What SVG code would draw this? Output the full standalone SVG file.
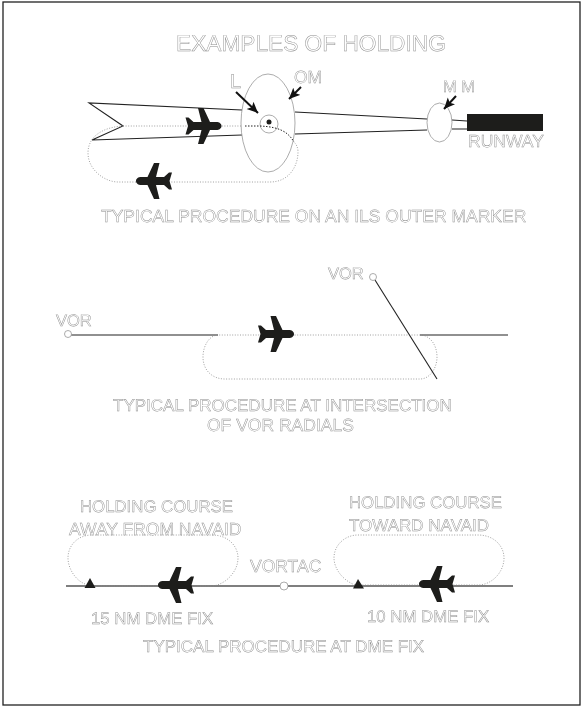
<svg xmlns="http://www.w3.org/2000/svg" width="582" height="711" viewBox="0 0 582 711">
<style>
text{font-family:"Liberation Sans",Arial,sans-serif;fill:#fff;stroke:#8c8c8c;stroke-width:.45;font-size:17.5px;filter:grayscale(1);text-rendering:geometricPrecision}
.s168{font-size:16.8px}
.s17{font-size:17px}
.s165{font-size:16.5px}
.ln{fill:none;stroke:#222;stroke-width:1.1}
.gr{fill:none;stroke:#555;stroke-width:1.5}
.gd{fill:none;stroke:#222;stroke-width:1.1}
.el{fill:#fff;stroke:#888;stroke-width:.7}
.dot{fill:none;stroke:#888;stroke-width:.8;stroke-dasharray:1 1.6}
.ddk{fill:none;stroke:#222;stroke-width:1;stroke-dasharray:1.5 1.5}
.ar{fill:none;stroke:#111;stroke-width:2;marker-end:url(#ah)}
.k{fill:#1d1d1b}
</style>
<defs>
<marker id="ah" markerUnits="userSpaceOnUse" markerWidth="12" markerHeight="12" refX="11" refY="5" orient="auto"><path d="M0 0L11 5L0 10L2.500 5Z" fill="#111"/></marker>
<path id="plane" class="k" d="M18 0C18 -2.500 15.500 -4 13 -4L6.500 -4L0 -18L-5.500 -18L-2 -4L-10 -4L-15 -8.500L-18 -8.500L-15.500 0L-18 8.500L-15 8.500L-10 4L-2 4L-5.500 18L0 18L6.500 4L13 4C15.500 4 18 2.500 18 0Z"/>
</defs>
<rect id="frame" x="3" y="2" width="577" height="703" fill="#fff" stroke="#222" stroke-width="1.300"/>
<g id="connectors">
<path class="ln" d="M242 110L89 103L123 126L92 140L242 135"/>
<path class="ln" d="M295 112L427 119M295 134L427 130M452 120L467 121M452 129L467 129"/>
<path class="dot" d="M123 126C105 127 88 135 88 153C88 170 105 182 118 182L270 182C290 182 298 165 298 152C298 147 296 144 294 142"/>
<path class="dot" d="M123 126L245 126"/>
<path class="gd" d="M70 335L218 335M420 335L508 335"/>
<path class="dot" d="M218 335C210 335 203 345 203 357C203 370 212 379 225 379L420 379C430 379 437 368 437 357C437 345 430 335 420 335Z"/>
<path class="ln" d="M375 280L437 379"/>
<path class="gr" d="M66 586L513 586"/>
<path class="dot" d="M85 584C75 580 68 568 68 558C68 545 78 535 92 535L212 535C228 535 238 546 238 558C238 572 225 585 212 586L90 586"/>
<path class="dot" d="M355 585C342 580 334 568 334 558C334 545 345 535 358 535L478 535C494 535 504 546 504 558C504 572 492 585 478 585L358 585"/>
</g>
<g id="marker-om">
<ellipse class="el" cx="268" cy="123" rx="27" ry="49"/>
<circle class="el" cx="269" cy="124" r="9"/>
<circle class="k" cx="269" cy="122" r="2.500"/>
<path class="ddk" d="M245 126L260 126C280 127 288 132 294 142"/>
<path class="ar" d="M236 92L258 113"/>
<path class="ar" d="M301 87L289 99"/>
<text x="230" y="88" style="font-size:20px">L</text>
<text x="294" y="83">OM</text>
</g>
<g id="marker-mm">
<ellipse class="el" cx="439.500" cy="122.500" rx="12.500" ry="19.500"/>
<path class="ar" d="M456 96L444 109"/>
<text class="s165" x="443" y="92">M M</text>
</g>
<g id="runway">
<rect x="467" y="114" width="76" height="17" class="k"/>
<text x="468" y="147">RUNWAY</text>
</g>
<g id="plane-ils-1"><use href="#plane" transform="translate(203.500 126)"/></g>
<g id="plane-ils-2"><use href="#plane" transform="translate(154 181) scale(-1 1)"/></g>
<g id="plane-vor"><use href="#plane" transform="translate(276 334)"/></g>
<g id="plane-dme-1"><use href="#plane" transform="translate(176 585) scale(-1 1)"/></g>
<g id="plane-dme-2"><use href="#plane" transform="translate(437 584) scale(-1 1)"/></g>
<g id="vor-left"><circle class="el" cx="68" cy="334" r="3.500"/><text class="s165" x="56" y="326">VOR</text></g>
<g id="vor-right"><circle class="el" cx="373" cy="277" r="3.500"/><text class="s165" x="328" y="279">VOR</text></g>
<g id="vortac"><circle class="el" cx="284" cy="586" r="4"/><text x="250" y="572">VORTAC</text></g>
<g id="fix-15"><path class="k" d="M90 578L95.500 588L84.500 588Z"/><text class="s168" x="91" y="624">15 NM DME FIX</text></g>
<g id="fix-10"><path class="k" d="M358 579L364 588.500L353 588.500Z"/><text class="s168" x="367" y="622">10 NM DME FIX</text></g>
<g id="labels">
<text x="176" y="51" style="font-size:22.7px">EXAMPLES OF HOLDING</text>
<text x="101" y="222">TYPICAL PROCEDURE ON AN ILS OUTER MARKER</text>
<text class="s17" x="113" y="411">TYPICAL PROCEDURE AT INTERSECTION</text>
<text x="207" y="431">OF VOR RADIALS</text>
<text class="s168" x="80" y="512">HOLDING COURSE</text>
<text x="69" y="535">AWAY FROM NAVAID</text>
<text class="s168" x="349" y="508">HOLDING COURSE</text>
<text class="s17" x="349" y="531">TOWARD NAVAID</text>
<text class="s17" x="143" y="652">TYPICAL PROCEDURE AT DME FIX</text>
</g>
</svg>
